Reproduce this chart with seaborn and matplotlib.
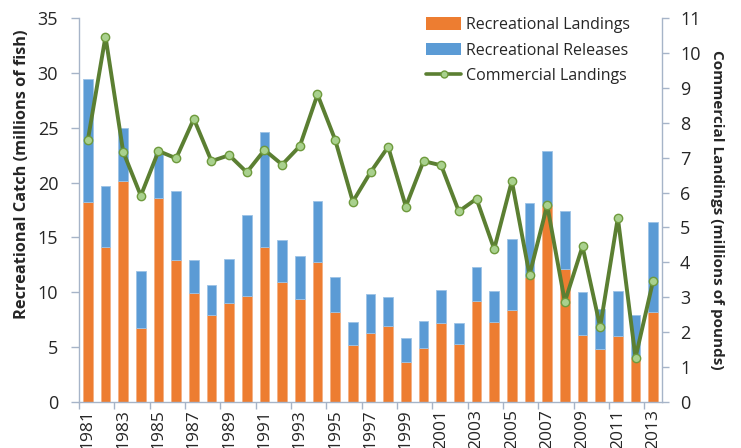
import numpy as np
import pandas as pd
import matplotlib
matplotlib.use("Agg")
import matplotlib.pyplot as plt
import seaborn as sns
from matplotlib.patches import Patch
from matplotlib.lines import Line2D

# values
years = [str(y) for y in range(1981, 2014)]
rec_landings = [18.2, 14.1, 20.1, 6.7, 18.6, 12.9, 9.9, 7.9, 9.0, 9.7, 14.1,
                10.9, 9.4, 12.8, 8.2, 5.2, 6.3, 6.9, 3.6, 4.9, 7.2, 5.3,
                9.2, 7.3, 8.4, 11.4, 18.0, 12.1, 6.1, 4.8, 6.0, 4.1, 8.2]
rec_releases = [11.2, 5.6, 4.9, 5.2, 4.0, 6.3, 3.0, 2.8, 4.0, 7.3, 10.5,
                3.9, 3.9, 5.5, 3.2, 2.1, 3.5, 2.7, 2.2, 2.5, 3.0, 1.9,
                3.1, 2.8, 6.5, 6.7, 4.9, 5.3, 3.9, 3.7, 4.1, 3.8, 8.2]
comm_landings = [7.50, 10.47, 7.17, 5.91, 7.19, 6.98, 8.11, 6.90, 7.07, 6.58, 7.22,
                 6.80, 7.33, 8.81, 7.51, 5.74, 6.58, 7.31, 5.60, 6.90, 6.78, 5.46,
                 5.82, 4.38, 6.33, 3.64, 5.64, 2.87, 4.46, 2.15, 5.28, 1.27, 3.48]

df = pd.DataFrame({"year": years, "landings": rec_landings,
                   "releases": rec_releases, "commercial": comm_landings})

orange = "#ED7D31"
blue = "#5B9BD5"
green = "#5B7F32"
spine_col = "#A6B4C8"

sns.set_theme(style="white")
plt.rcParams['font.family'] = ['Open Sans', 'DejaVu Sans']

fig = plt.figure(figsize=(7.41, 4.48), dpi=100)
ax = fig.add_axes([0.1066, 0.1027, 0.7868, 0.8571])

sns.barplot(data=df, x="year", y="landings", color=orange, saturation=1,
            width=0.55, edgecolor="#F4B183", linewidth=0.6, ax=ax)
sns.barplot(data=df, x="year", y="releases", color=blue, saturation=1,
            width=0.55, edgecolor="#9DC3E6", linewidth=0.6,
            bottom=df["landings"].values, ax=ax)

ax2 = ax.twinx()
sns.lineplot(x=np.arange(len(years)), y=df["commercial"], color=green, lw=2.8,
             marker="o", markersize=6, markerfacecolor="#A9D18E",
             markeredgecolor="#6E9A3C", markeredgewidth=1, ax=ax2)

n = len(years)
ax.set_xlim(-0.5, n - 0.5)
ax.set_ylim(0, 35)
ax2.set_ylim(0, 11)
ax.set_yticks(range(0, 36, 5))
ax2.set_yticks(range(0, 12))

ax.set_xticks(range(0, n, 2))
ax.set_xticklabels(years[::2], rotation=90, fontsize=12.5)
ax.set_xticks(np.arange(-0.5, n, 2), minor=True)
ax.tick_params(axis="x", which="major", length=0, pad=5)
ax.tick_params(axis="x", which="minor", length=5, color=spine_col, width=1, bottom=True)
ax.tick_params(axis="y", length=6, color=spine_col, width=1, left=True, labelsize=13, pad=9)
ax2.tick_params(axis="y", length=5, color=spine_col, width=1, right=True, labelsize=13, pad=8)

for a in (ax, ax2):
    for s in a.spines.values():
        s.set_visible(False)
ax.spines["left"].set_visible(True)
ax.spines["bottom"].set_visible(True)
ax2.spines["right"].set_visible(True)
for s in (ax.spines["left"], ax.spines["bottom"], ax2.spines["right"]):
    s.set_color(spine_col)
    s.set_linewidth(1)

ax.set_xlabel("")
ax.set_ylabel("Recreational Catch (millions of fish)", fontsize=11.8, fontweight="bold",
              va="center")
ax.yaxis.set_label_coords(-0.098, 0.593)
ax2.set_ylabel("Commercial Landings (millions of pounds)", fontsize=11, fontweight="bold",
               rotation=270, va="center")
ax2.yaxis.set_label_coords(1.094, 0.5)

handles = [Patch(facecolor=orange, edgecolor="none"),
           Patch(facecolor=blue, edgecolor="none"),
           Line2D([0], [0], color=green, lw=2.6, marker="o", markersize=5,
                  markerfacecolor="#A9D18E", markeredgecolor="#6E9A3C")]
labels = ["Recreational Landings", "Recreational Releases", "Commercial Landings"]
ax2.legend(handles, labels, loc="upper right", bbox_to_anchor=(0.97, 1.04), frameon=False,
           fontsize=11.5, handlelength=2.2, handleheight=0.8, labelspacing=0.6,
           handletextpad=0.3)

fig.savefig("out.png", dpi=100)
